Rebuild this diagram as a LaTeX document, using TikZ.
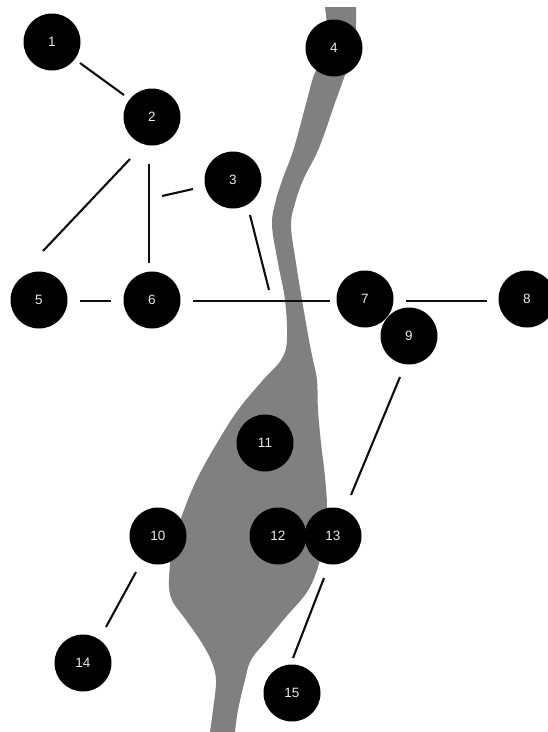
\documentclass[tikz,border=0pt]{standalone}
\usepackage{fontspec}
\setmainfont{Liberation Sans}
\definecolor{rivergray}{RGB}{128,128,128}
\definecolor{labelwhite}{RGB}{235,235,235}
\begin{document}
\begin{tikzpicture}[x=1pt,y=-1pt,
  dot/.style={circle,fill=black,draw=none,minimum size=57pt,inner sep=0pt,
    text=labelwhite,font=\fontsize{13.5}{15}\selectfont},
  link/.style={draw=black!95,line width=2.1pt},
  river/.style={fill=rivergray}]
\useasboundingbox (0,0) rectangle (547,732);
\fill[river] plot[smooth, tension=0.6] coordinates {(325,7) (327,45) (314,75) (307,100) (294,148) (283,178) (276,200) (272,225) (278,263) (285,300) (287,340) (281,360) (263,380) (238,410) (217,443) (198,477) (184,510) (173,545) (169,580) (172,600) (186,620) (200,640) (211,660) (216,680) (213,710) (210,732)}
 -- plot[smooth, tension=0.6] coordinates {(235,732) (238,710) (245,680) (251,660) (267,640) (285,618) (307,592) (318,567) (324,540) (327,510) (325,477) (321,443) (318,410) (317,380) (313,360) (309,340) (302,300) (296,263) (291,225) (296,200) (304,178) (319,148) (336,100) (345,75) (355,45) (356,7)} -- cycle;
\path (52,42) coordinate (p1) (152,117) coordinate (p2) (233,180) coordinate (p3)
  (334,48) coordinate (p4) (39,300) coordinate (p5) (152,300) coordinate (p6)
  (365,299) coordinate (p7) (527,299) coordinate (p8) (409,336) coordinate (p9)
  (158,536) coordinate (p10) (265,443) coordinate (p11) (278,536) coordinate (p12)
  (333,536) coordinate (p13) (83,663) coordinate (p14) (292,693) coordinate (p15);
\coordinate (end3) at (269,290);
% connectors
\draw[link] ([shift={(28,21)}]p1) -- ([shift={(-28,-22)}]p2);
\draw[link] ([shift={(-22,42)}]p2) -- ([shift={(4,-49)}]p5);
\draw[link] ([shift={(-3,47)}]p2) -- ([shift={(-3,-37)}]p6);
\draw[link] ([shift={(10,79)}]p2) -- ([shift={(-40,9)}]p3);
\draw[link] ([shift={(17,35)}]p3) -- (end3);
\draw[link] ([shift={(41,1)}]p5) -- ([shift={(-41,1)}]p6);
\draw[link] ([shift={(41,1)}]p6) -- ([shift={(-35,2)}]p7);
\draw[link] ([shift={(41,2)}]p7) -- ([shift={(-40,2)}]p8);
\draw[link] ([shift={(-9,41)}]p9) -- ([shift={(18,-41)}]p13);
\draw[link] ([shift={(-22,36)}]p10) -- ([shift={(23,-36)}]p14);
\draw[link] ([shift={(-9,42)}]p13) -- ([shift={(1,-35)}]p15);
% node circles
\node[dot] (n1) at (p1) {1};
\node[dot] (n2) at (p2) {2};
\node[dot] (n3) at (p3) {3};
\node[dot] (n4) at (p4) {4};
\node[dot] (n5) at (p5) {5};
\node[dot] (n6) at (p6) {6};
\node[dot] (n7) at (p7) {7};
\node[dot] (n8) at (p8) {8};
\node[dot] (n9) at (p9) {9};
\node[dot] (n10) at (p10) {10};
\node[dot] (n11) at (p11) {11};
\node[dot] (n12) at (p12) {12};
\node[dot] (n13) at (p13) {13};
\node[dot] (n14) at (p14) {14};
\node[dot] (n15) at (p15) {15};
\end{tikzpicture}
\end{document}
